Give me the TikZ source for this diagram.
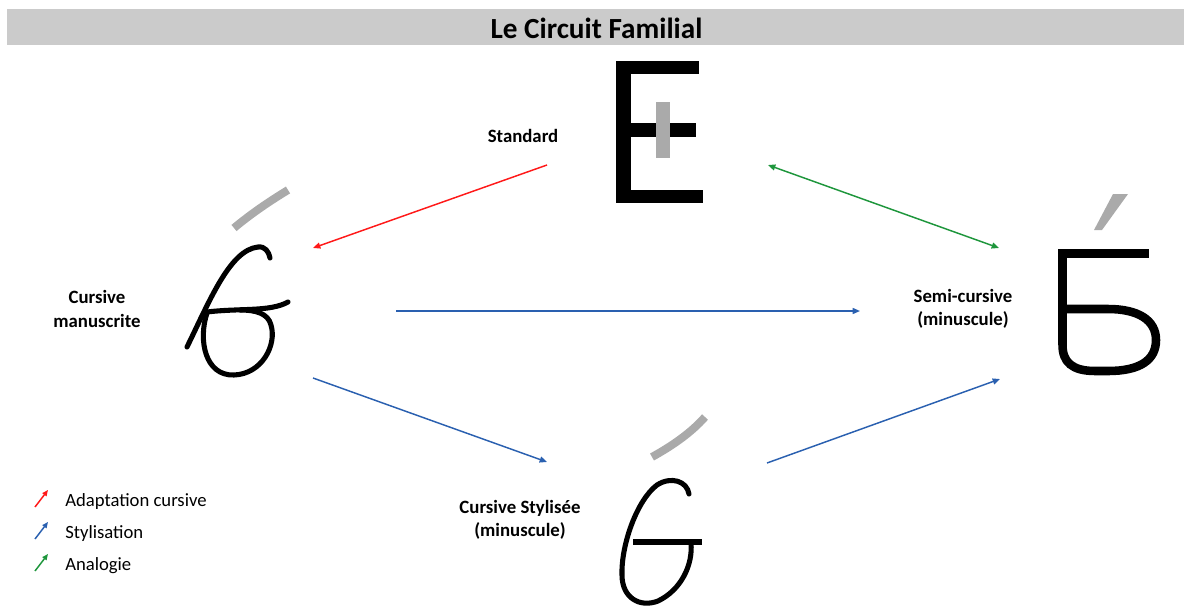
\documentclass[tikz,border=0pt]{standalone}
\usepackage{fontspec}
\setmainfont{Carlito}
\usetikzlibrary{arrows.meta}
\definecolor{barGray}{RGB}{203,203,203}
\definecolor{accGray}{RGB}{170,170,170}
\definecolor{arRed}{RGB}{255,25,25}
\definecolor{arBlue}{RGB}{42,96,176}
\definecolor{arGreen}{RGB}{30,150,60}
\begin{document}
\begin{tikzpicture}[x=0.75pt,y=-0.75pt,
  lbl/.style={font=\bfseries\fontsize{14.1}{17.5}\selectfont, align=center, inner sep=0pt},
  leg/.style={font=\fontsize{14}{17}\selectfont, anchor=base west, inner sep=0pt},
  conn/.style={line width=1.1pt, -{Triangle[length=5.5pt,width=4.5pt]}},
  dconn/.style={line width=1.1pt, {Triangle[length=5.5pt,width=4.5pt]}-{Triangle[length=5.5pt,width=4.5pt]}},
  legarrow/.style={line width=1.1pt, -{Triangle[length=4.5pt,width=3.8pt]}},
  ink/.style={line width=3.8pt, line cap=round, line join=round},
  acc/.style={draw=accGray, line width=6pt}]
\useasboundingbox (0,0) rectangle (1184,613);
% title bar
\fill[barGray] (7,9) rectangle (1184,45);
\node[font=\bfseries\fontsize{21.9}{26}\selectfont, inner sep=0pt] (title) at (596.5,28) {Le Circuit Familial};

% labels
\node[lbl] (std) at (523,136) {Standard};
\node[lbl] (cm) at (97,309) {Cursive\\manuscrite};
\node[lbl] (sc) at (963,309) {Semi-cursive\\(minuscule)};
\node[lbl] (cs) at (520,520) {Cursive Stylisée\\(minuscule)};

% Standard glyph E
\fill (616,61) rectangle (631,203);
\fill (616,61) rectangle (699,74);
\fill (630,123) rectangle (696,137);
\fill (616,190) rectangle (703,203);
\fill[accGray] (656,102) rectangle (670,158);

% Cursive manuscrite glyph
\draw[acc] (234,228) .. controls (252,213) and (270,201) .. (288,190);
\draw[ink] (187,347) .. controls (210,300) and (230,250) .. (258,247) .. controls (265,246) and (269,252) .. (270,258);
\draw[ink] (207,312) .. controls (240,308) and (270,312) .. (288,302);
\draw[ink] (207,313) .. controls (198,340) and (205,376) .. (234,375) .. controls (262,374) and (277,345) .. (271,325) .. controls (268,313) and (255,310) .. (240,310);

% Semi-cursive glyph
\fill[accGray] (1113,194) -- (1128,194) -- (1102,230) -- (1094,230) -- cycle;
\draw[line width=6.4pt] (1058,253.5) -- (1149,253.5);
\draw[line width=6.4pt] (1062.5,249) -- (1062.5,345) .. controls (1062.5,362) and (1072,371) .. (1095,371) -- (1108,371) .. controls (1140,371) and (1156,360) .. (1156,340) .. controls (1156,320) and (1138,309) .. (1108,309) -- (1062.5,309);

% Cursive stylisee glyph
\draw[acc] (652,457) .. controls (670,447) and (690,434) .. (705,417);
\draw[ink] (689,494) .. controls (687,481) and (671,476) .. (657,485) .. controls (637,500) and (621,545) .. (622,575) .. controls (622,598) and (640,608) .. (658,601) .. controls (681,590) and (693,565) .. (691,543);
\draw[line width=5.2pt] (633,542) -- (702,542);

% connector end points
\coordinate (stdL) at (547,165);
\coordinate (cmT) at (313,248);
\coordinate (stdR) at (768,165);
\coordinate (scT) at (999,248);
\coordinate (cmR) at (396,311);
\coordinate (scL) at (860,311);
\coordinate (cmB) at (313,378);
\coordinate (csL) at (547,462);
\coordinate (csR) at (767,463);
\coordinate (scB) at (1000,379);

\draw[conn, arRed] (stdL) -- (cmT);
\draw[dconn, arGreen] (stdR) -- (scT);
\draw[conn, arBlue] (cmR) -- (scL);
\draw[conn, arBlue] (cmB) -- (csL);
\draw[conn, arBlue] (csR) -- (scB);

% legend
\coordinate (lr1) at (35,507); \coordinate (lr2) at (48,490);
\coordinate (lb1) at (35,539); \coordinate (lb2) at (48,522);
\coordinate (lg1) at (35,571); \coordinate (lg2) at (48,554);
\draw[legarrow, arRed] (lr1) -- (lr2);
\draw[legarrow, arBlue] (lb1) -- (lb2);
\draw[legarrow, arGreen] (lg1) -- (lg2);
\node[leg] (legR) at (65,506) {Adaptation cursive};
\node[leg] (legB) at (65,538) {Stylisation};
\node[leg] (legG) at (65,570) {Analogie};
\end{tikzpicture}
\end{document}
